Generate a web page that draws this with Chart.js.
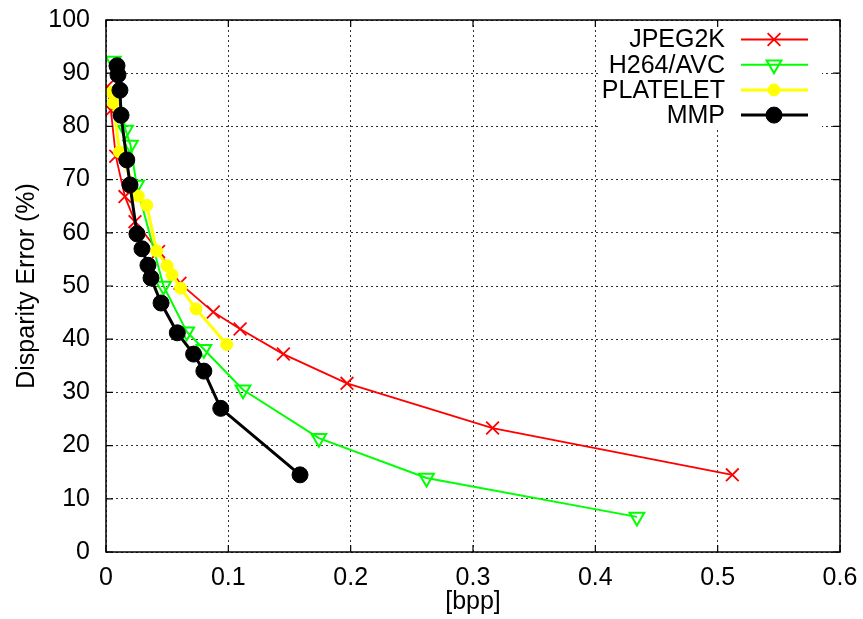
<!DOCTYPE html>
<html>
<head>
<meta charset="utf-8">
<script src="https://cdn.jsdelivr.net/npm/chart.js@4.4.1/dist/chart.umd.min.js"></script>
<style>
  html, body { margin: 0; padding: 0; background: #fff; }
  #wrap { width: 863px; height: 619px; }
</style>
</head>
<body>
<div id="wrap"><canvas id="c" width="863" height="619"></canvas></div>
<script>
// ---- data ----
const seriesNames = ['JPEG2K', 'H264/AVC', 'PLATELET', 'MMP'];

const jpegX = [0.001, 0.004, 0.008, 0.0155, 0.0237, 0.043, 0.0605, 0.0877, 0.1096, 0.145, 0.197, 0.316, 0.512];
const jpegY = [87.5, 83.0, 74.4, 66.8, 62.1, 56.5, 50.5, 45.1, 41.9, 37.2, 31.7, 23.3, 14.5];

const h264X = [0.006, 0.016, 0.020, 0.025, 0.047, 0.066, 0.080, 0.112, 0.174, 0.262, 0.434];
const h264Y = [92.3, 79.3, 76.5, 69.0, 50.0, 41.4, 38.1, 30.5, 21.4, 13.9, 6.6];

const plateletX = [0.0047, 0.006, 0.011, 0.0264, 0.0333, 0.0414, 0.050, 0.054, 0.061, 0.0736, 0.0987];
const plateletY = [86.4, 84.4, 75.2, 66.9, 65.2, 56.6, 53.8, 52.1, 49.6, 45.7, 39.0];

const mmpX = [0.009, 0.0098, 0.0114, 0.0123, 0.017, 0.0196, 0.0253, 0.0294, 0.0343, 0.0368, 0.045, 0.0583, 0.0716, 0.080, 0.0938, 0.1586];
const mmpY = [91.4, 89.7, 86.8, 82.1, 73.7, 69.0, 59.8, 57.0, 53.9, 51.5, 46.8, 41.2, 37.2, 34.0, 27.0, 14.5];

const xTickValues = [0, 0.1, 0.2, 0.3, 0.4, 0.5, 0.6];
const yTickValues = [0, 10, 20, 30, 40, 50, 60, 70, 80, 90, 100];
const xAxisTitle = '[bpp]';
const yAxisTitle = 'Disparity Error (%)';

// ---- helpers ----
const pts = (xs, ys) => xs.map((x, i) => ({ x: x, y: ys[i] }));
const FONT = 'Liberation Sans, Arial, Helvetica, sans-serif';
const FS = 25;

Chart.defaults.color = '#000';
Chart.defaults.font.family = FONT;

const styles = [
  { color: '#ff0000', lineWidth: 1.8, pointStyle: 'crossRot', radius: 9, rotation: 0, fill: 'rgba(0,0,0,0)', pbw: 1.8 },
  { color: '#00ff00', lineWidth: 2, pointStyle: 'triangle', radius: 8.5, rotation: 180, fill: 'rgba(0,0,0,0)', pbw: 2 },
  { color: '#ffff00', lineWidth: 3, pointStyle: 'circle', radius: 6, rotation: 0, fill: '#ffff00', pbw: 1 },
  { color: '#000000', lineWidth: 3, pointStyle: 'circle', radius: 8, rotation: 0, fill: '#000000', pbw: 1 }
];
const seriesData = [pts(jpegX, jpegY), pts(h264X, h264Y), pts(plateletX, plateletY), pts(mmpX, mmpY)];

const datasets = seriesNames.map((name, i) => ({
  label: name,
  data: seriesData[i],
  borderColor: styles[i].color,
  backgroundColor: styles[i].fill,
  borderWidth: styles[i].lineWidth,
  pointStyle: styles[i].pointStyle,
  pointRadius: styles[i].radius,
  pointRotation: styles[i].rotation,
  pointBorderColor: styles[i].color,
  pointBackgroundColor: styles[i].fill,
  pointBorderWidth: styles[i].pbw,
  tension: 0,
  fill: false,
  order: 3 - i
}));

const framePlugin = {
  id: 'frame',
  afterDatasetsDraw(chart) {
    const ctx = chart.ctx;
    const a = chart.chartArea;
    const xs = chart.scales.x, ys = chart.scales.y;
    ctx.save();
    // legend box (opaque white, no border)
    ctx.fillStyle = '#fff';
    ctx.fillRect(598, 24, 224, 104);
    ctx.font = FS + 'px ' + FONT;
    ctx.textAlign = 'right';
    ctx.textBaseline = 'middle';
    const rowY0 = 39.5, rowDy = 25.2;
    seriesNames.forEach((name, i) => {
      const y = rowY0 + i * rowDy;
      ctx.fillStyle = '#000';
      ctx.fillText(name, 725, y + 1);
      const s = styles[i];
      ctx.strokeStyle = s.color;
      ctx.lineWidth = s.lineWidth;
      ctx.beginPath();
      ctx.moveTo(741, y);
      ctx.lineTo(808, y);
      ctx.stroke();
      ctx.fillStyle = s.fill;
      ctx.lineWidth = s.pbw;
      Chart.helpers.drawPoint(ctx, { pointStyle: s.pointStyle, rotation: s.rotation, radius: s.radius, borderWidth: s.pbw }, 774, y);
    });
    // border
    ctx.strokeStyle = '#000';
    ctx.lineWidth = 1.5;
    ctx.strokeRect(a.left, a.top, a.right - a.left, a.bottom - a.top);
    // inner tick marks on all four sides
    ctx.lineWidth = 1.2;
    ctx.beginPath();
    const tl = 7;
    xTickValues.forEach(v => {
      const px = xs.getPixelForValue(v);
      ctx.moveTo(px, a.bottom); ctx.lineTo(px, a.bottom - tl);
      ctx.moveTo(px, a.top); ctx.lineTo(px, a.top + tl);
    });
    yTickValues.forEach(v => {
      const py = ys.getPixelForValue(v);
      ctx.moveTo(a.left, py); ctx.lineTo(a.left + tl, py);
      ctx.moveTo(a.right, py); ctx.lineTo(a.right - tl, py);
    });
    ctx.stroke();
    ctx.restore();
  }
};

new Chart(document.getElementById('c'), {
  type: 'line',
  data: { datasets: datasets },
  options: {
    responsive: false,
    animation: false,
    devicePixelRatio: 1,
    layout: { padding: { top: 20, right: 23, bottom: 0, left: 0 } },
    plugins: { legend: { display: false }, tooltip: { enabled: false } },
    scales: {
      x: {
        type: 'linear',
        min: 0, max: 0.6,
        afterFit(scale) { scale.height = 67; scale.paddingLeft = 0; scale.paddingRight = 0; },
        afterBuildTicks(scale) { scale.ticks = xTickValues.map(v => ({ value: v })); },
        ticks: {
          font: { size: FS, family: FONT },
          color: '#000',
          padding: 11,
          maxRotation: 0,
          callback: v => String(Math.round(v * 10) / 10)
        },
        grid: { color: '#333', lineWidth: 1, drawTicks: false },
        border: { display: false, dash: [2, 3] },
        title: { display: true, text: xAxisTitle, font: { size: FS, family: FONT }, color: '#000', padding: { top: 0, bottom: 2 } }
      },
      y: {
        type: 'linear',
        min: 0, max: 100,
        afterFit(scale) { scale.width = 106; scale.paddingTop = 0; scale.paddingBottom = 0; },
        afterBuildTicks(scale) { scale.ticks = yTickValues.map(v => ({ value: v })); },
        ticks: {
          font: { size: FS, family: FONT },
          color: '#000',
          padding: 16,
          callback: v => String(v)
        },
        grid: { color: '#333', lineWidth: 1, drawTicks: false },
        border: { display: false, dash: [2, 3] },
        title: { display: true, text: yAxisTitle, font: { size: FS, family: FONT }, color: '#000', padding: { top: 12, bottom: 0 } }
      }
    }
  },
  plugins: [framePlugin]
});
</script>
</body>
</html>
